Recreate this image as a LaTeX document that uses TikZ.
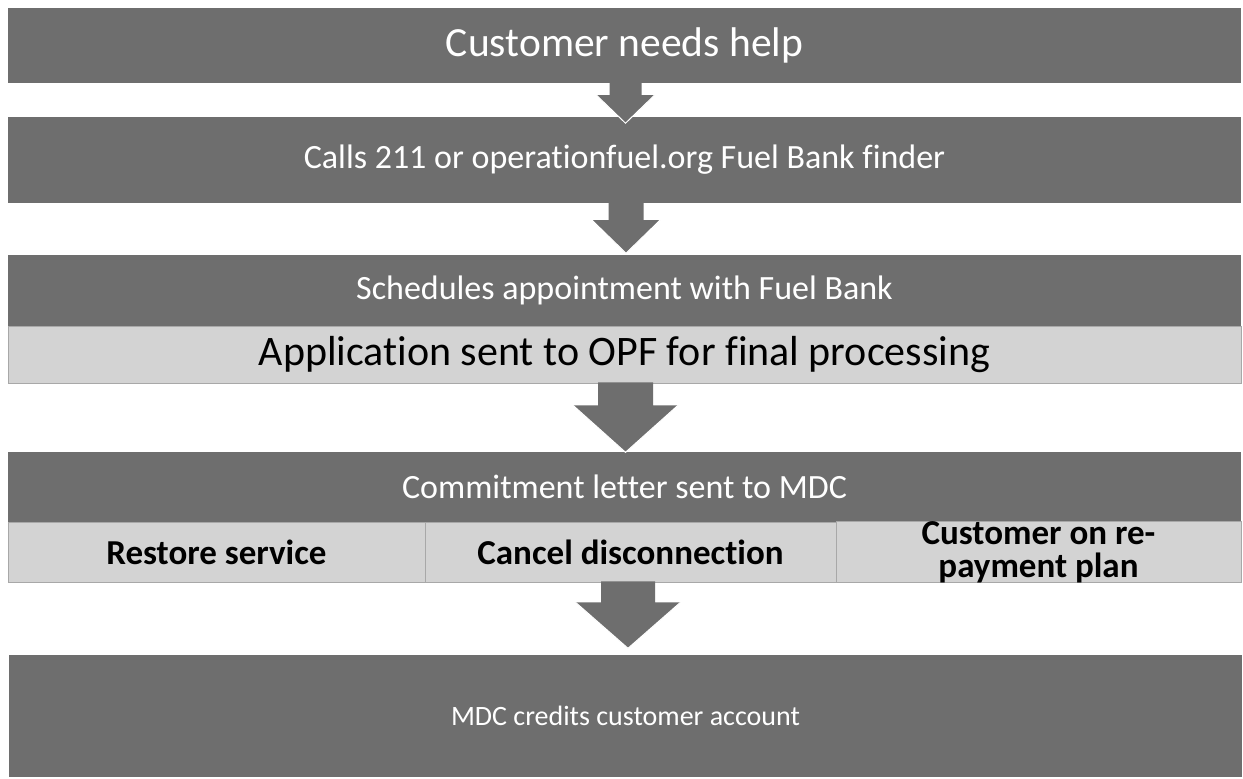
\documentclass[tikz,border=0pt]{standalone}
\usepackage{fontspec}
\setmainfont{Carlito}[Ligatures=NoCommon]
\usetikzlibrary{calc}
\definecolor{darkbar}{HTML}{6E6E6E}
\definecolor{lightbar}{HTML}{D3D3D3}
\definecolor{lightedge}{HTML}{A8A8A8}
\newcommand{\flowarrow}[7]{%
  \fill[darkbar] ($(#1)+(#2-#3,-1)$) -- ++(0,#5+1) -- ++(#3-#4,0) coordinate (#7l)
     -- ++(#4,#6) coordinate (#7t) -- ++(#4,-#6) coordinate (#7r)
     -- ++(#3-#4,0) -- ++(0,-#5-1) -- cycle;
  \draw[white, line width=1pt] (#7l) -- (#7t) -- (#7r);}
\begin{document}
\begin{tikzpicture}[x=1pt,y=-1pt,
  darkbox/.style={fill=darkbar, draw=none, text=white, inner sep=0pt, minimum width=1233pt},
  lightbox/.style={fill=lightbar, draw=lightedge, line width=0.6pt, text=black, inner sep=0pt},
  cellbox/.style={lightbox, font=\fontsize{35}{33}\selectfont\bfseries, align=center}]
\useasboundingbox (0,0) rectangle (1243,779);
\fill[white] (0,0) rectangle (1243,779);
% bars
\node[darkbox, minimum height=75pt, font=\fontsize{41.5}{48}\selectfont] (b1) at (624.5,45.5) {Customer needs help};
\node[darkbox, minimum height=86pt, font=\fontsize{34}{40}\selectfont] (b2) at (624.5,160) {Calls 211 or operationfuel.org Fuel Bank finder};
\node[darkbox, minimum height=71pt, font=\fontsize{34}{40}\selectfont] (b3) at (624.5,290.5) {Schedules appointment with Fuel Bank};
\node[lightbox, minimum width=1233pt, minimum height=57pt, font=\fontsize{42}{48}\selectfont] (b3l) at (624.5,354.5) {Application sent to OPF for final processing};
\node[darkbox, minimum height=70pt, font=\fontsize{34}{40}\selectfont] (b4) at (624.5,487) {Commitment letter sent to MDC};
\node[cellbox, minimum width=417pt, minimum height=60pt] (c1) at (216.5,552) {Restore service};
\node[cellbox, minimum width=411pt, minimum height=60pt] (c2) at (630.5,552) {Cancel disconnection};
\node[cellbox, minimum width=405pt, minimum height=60pt] (c3) at (1038.5,552) {Customer on re-\\payment plan};
\node[darkbox, minimum height=122pt, font=\fontsize{28}{34}\selectfont] (b5) at (625.5,716) {MDC credits customer account};
% arrows
\flowarrow{b1.south}{1}{16}{29}{12}{28}{a1}
\flowarrow{b2.south}{1.5}{17.5}{34}{17}{33}{a2}
\flowarrow{b3l.south}{1}{27.5}{52.5}{22}{47}{a3}
\flowarrow{c2.south}{-2.5}{27}{52.5}{20}{46}{a4}
\end{tikzpicture}
\end{document}
